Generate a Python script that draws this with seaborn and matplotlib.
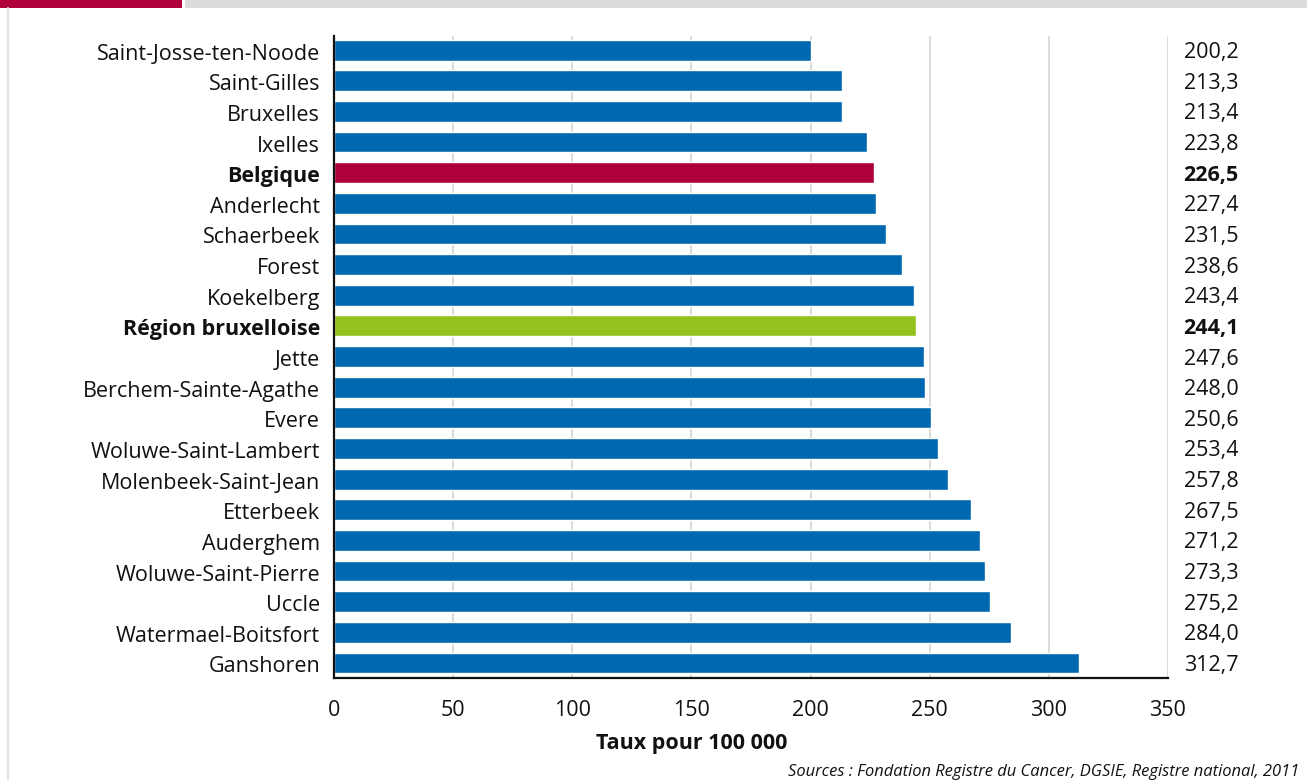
import matplotlib
matplotlib.use("Agg")
import matplotlib.pyplot as plt
import seaborn as sns
import pandas as pd
from matplotlib.patches import Rectangle
from matplotlib.lines import Line2D
from matplotlib.transforms import offset_copy

communes = [
    "Saint-Josse-ten-Noode", "Saint-Gilles", "Bruxelles", "Ixelles", "Belgique",
    "Anderlecht", "Schaerbeek", "Forest", "Koekelberg", "Région bruxelloise",
    "Jette", "Berchem-Sainte-Agathe", "Evere", "Woluwe-Saint-Lambert",
    "Molenbeek-Saint-Jean", "Etterbeek", "Auderghem", "Woluwe-Saint-Pierre",
    "Uccle", "Watermael-Boitsfort", "Ganshoren",
]
taux = [
    200.2, 213.3, 213.4, 223.8, 226.5, 227.4, 231.5, 238.6, 243.4, 244.1,
    247.6, 248.0, 250.6, 253.4, 257.8, 267.5, 271.2, 273.3, 275.2, 284.0, 312.7,
]
highlight = {"Belgique": "#B0003A", "Région bruxelloise": "#95C11F"}
base_color = "#0068B1"
x_ticks = [0, 50, 100, 150, 200, 250, 300, 350]

sns.set_theme(style="white")
plt.rcParams["font.family"] = ["Open Sans", "DejaVu Sans"]

FS = 15.5

df = pd.DataFrame({"commune": communes, "taux": taux})
palette = {c: highlight.get(c, base_color) for c in communes}

fig = plt.figure(figsize=(13.07, 7.8), dpi=100)
ax = fig.add_axes([0.2555, 0.1308, 0.6381, 0.8230])

sns.barplot(data=df, x="taux", y="commune", hue="commune", palette=palette,
            order=communes, hue_order=communes, width=0.68, legend=False,
            saturation=1, ax=ax)

ax.set_xlim(0, 350)
ax.set_ylim(len(communes) - 0.51, -0.46)
ax.set_xticks(x_ticks)
ax.set_xticklabels([str(t) for t in x_ticks])
ax.tick_params(axis="both", length=0, labelsize=FS, colors="#111111")
ax.tick_params(axis="x", pad=16)
ax.tick_params(axis="y", pad=10)
ax.set_ylabel("")
ax.set_xlabel("Taux pour 100 000", fontsize=FS, fontweight="bold",
              color="#111111")
ax.xaxis.set_label_coords(0.429, -0.085)

ax.grid(axis="x", color="#d4d4d4", linewidth=1.2)
ax.set_axisbelow(True)
for side in ("top", "right"):
    ax.spines[side].set_visible(False)
for side in ("left", "bottom"):
    ax.spines[side].set_color("#111111")
    ax.spines[side].set_linewidth(1.6)

bold_rows = set(highlight)
for lbl in ax.get_yticklabels():
    lbl.set_transform(lbl.get_transform() + matplotlib.transforms.ScaledTranslation(0, -1.5 / 100, fig.dpi_scale_trans))
    if lbl.get_text() in bold_rows:
        lbl.set_fontweight("bold")

value_tr = offset_copy(ax.get_yaxis_transform(), fig=fig, x=0, y=-2.5, units="dots")
for i, (c, v) in enumerate(zip(communes, taux)):
    ax.text(1.0845, i, f"{v:.1f}".replace(".", ","), transform=value_tr,
            ha="right", va="center", fontsize=FS, color="#111111",
            fontweight="bold" if c in bold_rows else "normal", clip_on=False)

# header band and frame
fig.patches.append(Rectangle((0.1415, 0.9897), 0.8585, 0.0103, transform=fig.transFigure,
                             facecolor="#dcdcdc", edgecolor="none"))
fig.patches.append(Rectangle((0.0, 0.9897), 0.1395, 0.0103, transform=fig.transFigure,
                             facecolor="#B0003A", edgecolor="none"))
fig.lines.append(Line2D([0.0058, 0.0058], [0.0, 0.9897], transform=fig.transFigure,
                        color="#e2e2e2", linewidth=1.5))

fig.text(0.9945, 0.0045, "Sources : Fondation Registre du Cancer, DGSIE, Registre national, 2011",
         ha="right", va="baseline", fontsize=11.9, style="italic", color="#111111")

fig.savefig("out.png", dpi=100, facecolor="white")
